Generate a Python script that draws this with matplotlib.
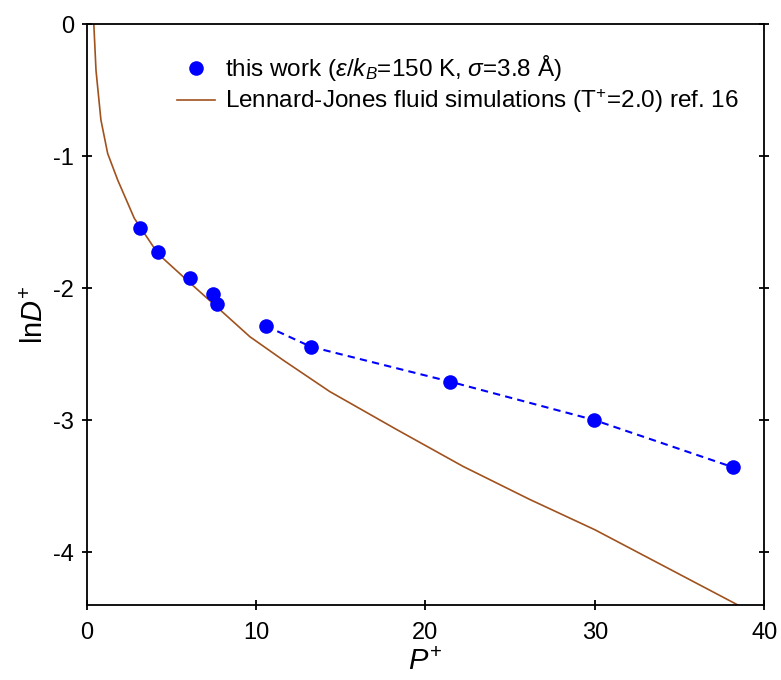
import matplotlib
matplotlib.use("Agg")
import matplotlib.pyplot as plt

plt.rcParams['font.family'] = ['Liberation Sans', 'DejaVu Sans']
plt.rcParams['mathtext.fontset'] = 'custom'
plt.rcParams['mathtext.rm'] = 'Liberation Sans'
plt.rcParams['mathtext.it'] = 'Liberation Sans:italic'
plt.rcParams['mathtext.bf'] = 'Liberation Sans:bold'

# this work: reduced pressure vs ln D+
p_work = [3.16, 4.22, 6.08, 7.43, 7.67, 10.58, 13.23, 21.43, 29.95, 38.15]
lnd_work = [-1.545, -1.727, -1.924, -2.045, -2.119, -2.286, -2.443, -2.707, -2.998, -3.356]

# dashed guide through the high-pressure points
p_dash = [10.58, 13.23, 21.43, 29.95, 38.15]
lnd_dash = [-2.286, -2.443, -2.707, -2.998, -3.356]

# Lennard-Jones fluid simulations (T+=2.0), ref. 16
p_lj = [0.41, 0.55, 0.84, 1.24, 1.83, 2.81, 4.22, 6.10, 7.67, 9.63, 11.6, 14.35,
        18.29, 22.22, 26.15, 30.0, 38.44]
lnd_lj = [0.03, -0.35, -0.725, -0.98, -1.18, -1.47, -1.74, -1.96, -2.14, -2.367, -2.545, -2.783,
          -3.07, -3.35, -3.60, -3.83, -4.40]

fig = plt.figure(figsize=(7.81, 6.8), dpi=100)
ax = fig.add_axes([0.111, 0.1103, 0.8676, 0.854])

ax.plot(p_lj, lnd_lj, color='#A0521E', lw=1.2,
        label='Lennard-Jones fluid simulations (T$^{+}$=2.0) ref. 16')
ax.plot(p_dash, lnd_dash, color='#0000FF', lw=1.5, dashes=(3.5, 2.5))
ax.plot(p_work, lnd_work, 'o', color='#0000FF', ms=10.5, mec='none',
        label=r'this work ($\varepsilon$/$k_B$=150 K, $\sigma$=3.8 Å)')

ax.set_xlim(0, 40)
ax.set_ylim(-4.4, 0)
ax.set_xticks([0, 10, 20, 30, 40])
ax.set_yticks([0, -1, -2, -3, -4])
ax.set_yticklabels(['0', '-1', '-2', '-3', '-4'])
ax.tick_params(direction='inout', length=6.5, width=1.3, labelsize=17,
               right=True, top=False)
ax.tick_params(axis='x', pad=9)
ax.tick_params(axis='y', pad=6)
for s in ax.spines.values():
    s.set_linewidth(1.3)

ax.set_xlabel(r'$P^{+}$', fontsize=21, labelpad=3)
ax.set_ylabel(r'ln$D^{+}$', fontsize=21, labelpad=3)

h, l = ax.get_legend_handles_labels()
ax.legend(h[::-1], l[::-1], loc='upper left', bbox_to_anchor=(0.1195, 0.967),
          frameon=False, fontsize=17.5, handlelength=1.55, handletextpad=0.4,
          labelspacing=0.18, borderaxespad=0)

fig.savefig('out.png', dpi=100)
